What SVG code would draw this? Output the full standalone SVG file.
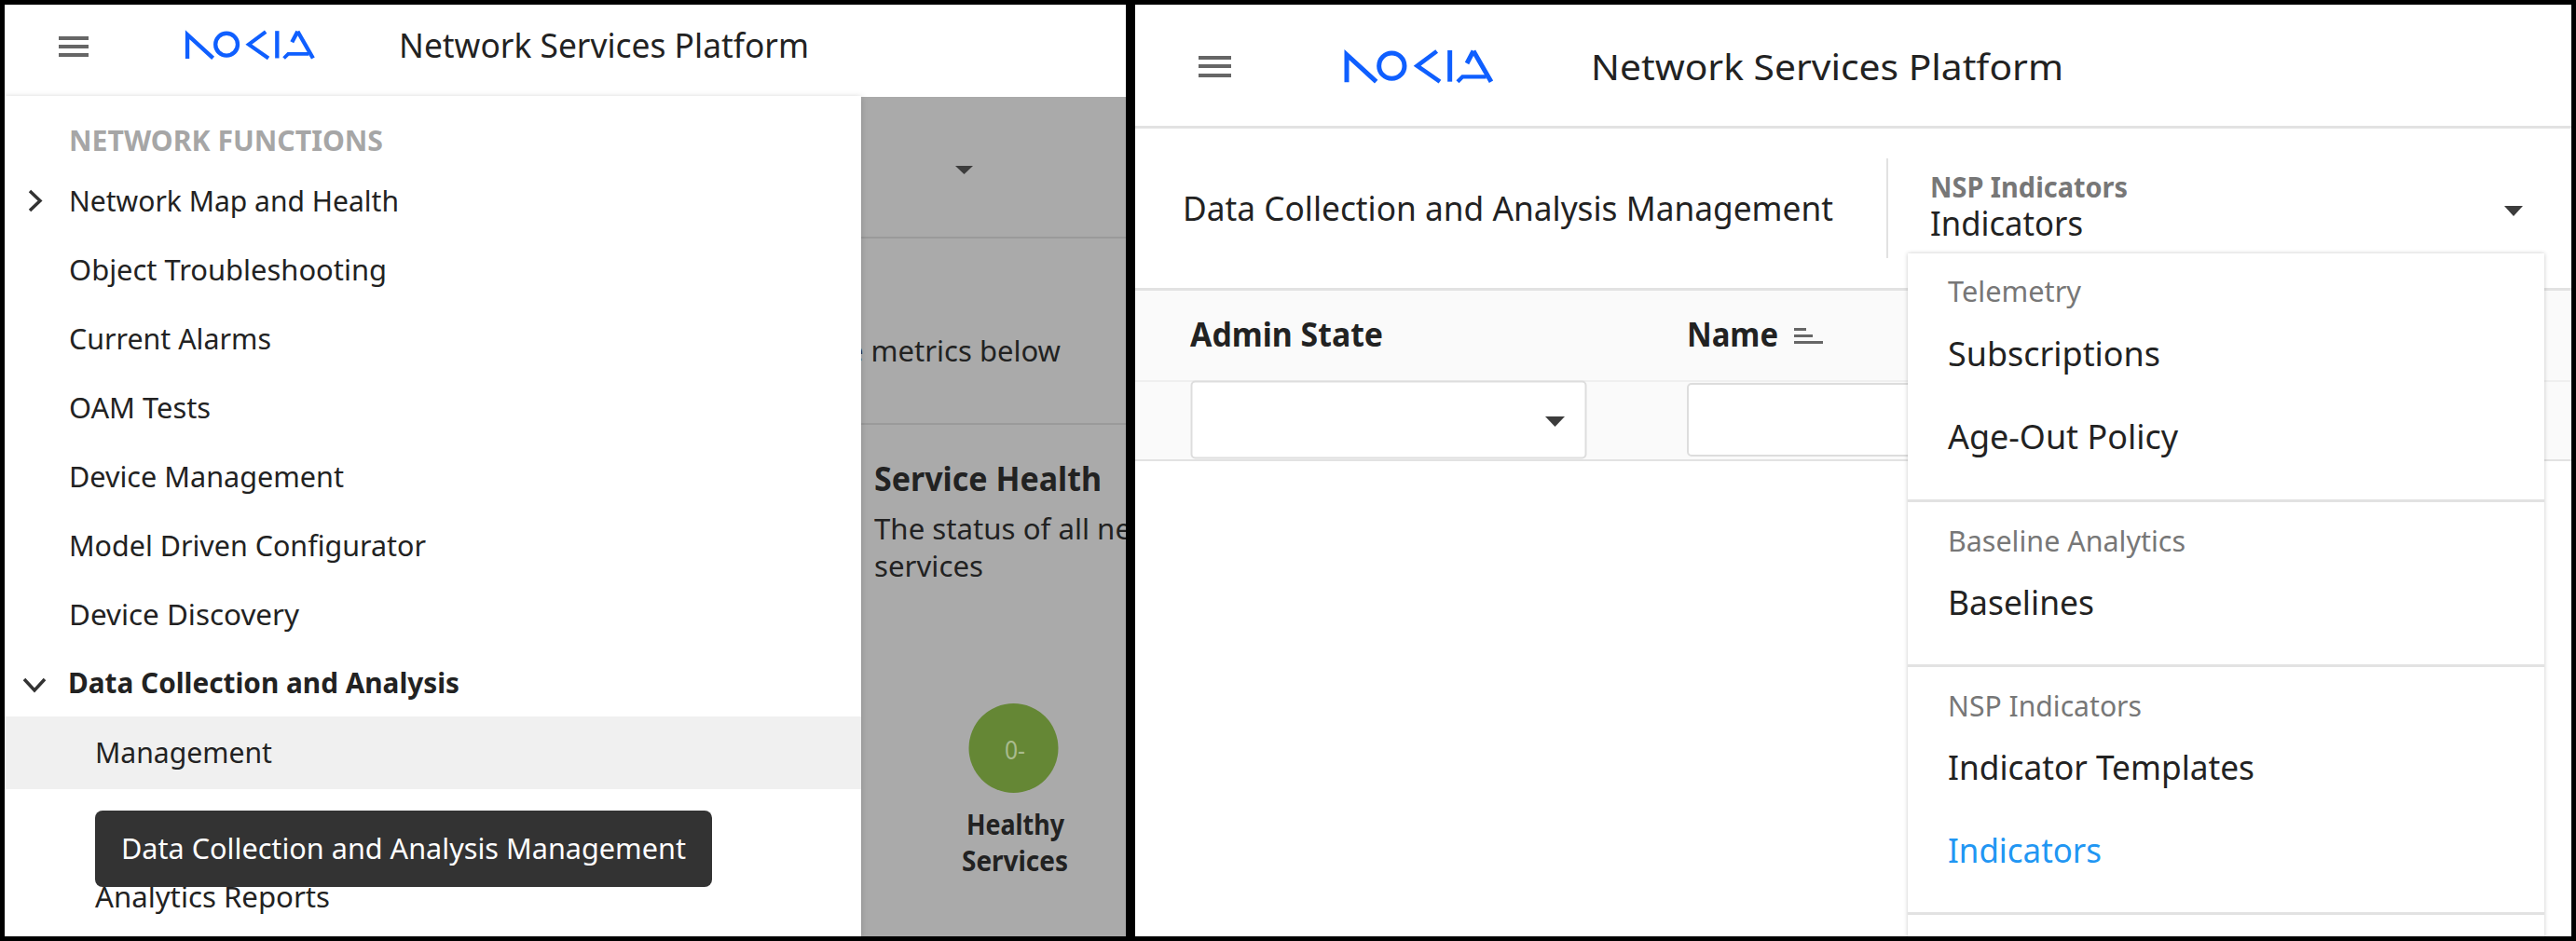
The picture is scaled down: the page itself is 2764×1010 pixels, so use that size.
<svg xmlns="http://www.w3.org/2000/svg" xmlns:xlink="http://www.w3.org/1999/xlink" width="2764" height="1010" viewBox="0 0 2764 1010">
<style>
text{font-family:"Noto Sans","Open Sans","DejaVu Sans",sans-serif;fill:#222}
.m{font-size:31px}
.b{font-weight:700}
.h{font-size:35.500px}
.t{font-size:38px}
.g{fill:#777}
.s{font-size:30px}
.line{fill:#e2e2e2}
.icon{fill:#666}
.tri{fill:#3c3c3c}
.logo{fill:none;stroke:#0f5fff;stroke-width:15}
</style>
<defs>
<filter id="sh" x="-5%" y="-5%" width="110%" height="110%"><feDropShadow dx="0" dy="1" stdDeviation="3" flood-color="#000" flood-opacity="0.2"/></filter>
<filter id="sh2" x="-5%" y="-5%" width="110%" height="110%"><feDropShadow dx="0" dy="0" stdDeviation="2" flood-color="#000" flood-opacity="0.22"/></filter>
<clipPath id="ov"><rect x="923" y="104" width="285" height="901"/></clipPath>
<clipPath id="rt"><rect x="1218" y="5" width="1541" height="1000"/></clipPath>
<g id="logo" class="logo">
<path d="M45 145V56L140 143"/>
<circle cx="190" cy="92" r="41" stroke-width="15"/>
<path d="M335 45L272 92L345 143" stroke-width="14"/>
<path d="M377 42V143" stroke-width="15"/>
<path d="M453 44L510 143M453 44L432 84" stroke-width="15"/>
<path d="M402 143L418 127H494" stroke-width="13"/>
</g>
</defs>
<rect width="2764" height="1010" fill="#000"/>

<g id="left-panel">
<rect x="5" y="5" width="1203" height="1000" fill="#fff"/>
<g id="left-overlay" clip-path="url(#ov)">
<rect x="923" y="104" width="285" height="901" fill="#aaa"/>
<rect x="923" y="254" width="285" height="2" fill="#9a9a9a"/>
<rect x="923" y="454" width="285" height="2" fill="#9a9a9a"/>
<path class="tri" d="M1025 178H1044L1034.500 187Z"/>
<text class="s" x="909" y="388" textLength="229" lengthAdjust="spacingAndGlyphs">e metrics below</text>
<text class="h b" x="938" y="527" textLength="244" lengthAdjust="spacingAndGlyphs">Service Health</text>
<text class="s" x="938" y="579" textLength="276" lengthAdjust="spacingAndGlyphs">The status of all ne</text>
<text class="s" x="938" y="619" textLength="117" lengthAdjust="spacingAndGlyphs">services</text>
<circle cx="1087.500" cy="803" r="48" fill="#658735"/>
<text x="1078" y="815" font-size="27" style="fill:#a9bb8e" textLength="22" lengthAdjust="spacingAndGlyphs">0-</text>
<text class="m b" x="1037" y="896" textLength="105" lengthAdjust="spacingAndGlyphs">Healthy</text>
<text class="m b" x="1032" y="935" textLength="114" lengthAdjust="spacingAndGlyphs">Services</text>
</g>
<g id="left-header">
<rect x="5" y="5" width="1203" height="98" fill="#fff"/>
<rect x="63" y="39" width="32" height="4" class="icon"/><rect x="63" y="48" width="32" height="4" class="icon"/><rect x="63" y="57" width="32" height="4" class="icon"/>
<use xlink:href="#logo" href="#logo" transform="translate(188 21) scale(0.29)"/>
<text class="h" x="428" y="62" textLength="440" lengthAdjust="spacingAndGlyphs">Network Services Platform</text>
</g>
<g id="left-drawer">
<rect x="5" y="103" width="919" height="902" fill="#fff" filter="url(#sh)"/>
<text class="m b" x="74" y="162" style="fill:#a6a6a6" textLength="337" lengthAdjust="spacingAndGlyphs">NETWORK FUNCTIONS</text>
<path d="M32 205L43 215.500L32 226" fill="none" stroke="#333" stroke-width="3.500"/>
<text class="m" x="74" y="227" textLength="354" lengthAdjust="spacingAndGlyphs">Network Map and Health</text>
<text class="m" x="74" y="301" textLength="341" lengthAdjust="spacingAndGlyphs">Object Troubleshooting</text>
<text class="m" x="74" y="375" textLength="217" lengthAdjust="spacingAndGlyphs">Current Alarms</text>
<text class="m" x="74" y="449" textLength="152" lengthAdjust="spacingAndGlyphs">OAM Tests</text>
<text class="m" x="74" y="523" textLength="295" lengthAdjust="spacingAndGlyphs">Device Management</text>
<text class="m" x="74" y="597" textLength="383" lengthAdjust="spacingAndGlyphs">Model Driven Configurator</text>
<text class="m" x="74" y="671" textLength="247" lengthAdjust="spacingAndGlyphs">Device Discovery</text>
<path d="M26 729L37 741L48 729" fill="none" stroke="#333" stroke-width="3.500"/>
<text class="m b" x="73" y="744" textLength="420" lengthAdjust="spacingAndGlyphs">Data Collection and Analysis</text>
<rect x="5" y="769" width="919" height="78" fill="#f0f0f0"/>
<text class="m" x="102" y="819" textLength="190" lengthAdjust="spacingAndGlyphs">Management</text>
<text class="m" x="102" y="974" textLength="252" lengthAdjust="spacingAndGlyphs">Analytics Reports</text>
</g>
<g id="tooltip">
<rect x="102" y="870" width="662" height="82" rx="8" fill="#333"/>
<text class="m" x="130" y="922" style="fill:#fff" textLength="606" lengthAdjust="spacingAndGlyphs">Data Collection and Analysis Management</text>
</g>
</g>

<g id="right-panel" clip-path="url(#rt)">
<rect x="1218" y="5" width="1541" height="1000" fill="#fff"/>
<g id="right-header">
<rect x="1286" y="60" width="35" height="4" class="icon"/><rect x="1286" y="69" width="35" height="4" class="icon"/><rect x="1286" y="79" width="35" height="4" class="icon"/>
<use xlink:href="#logo" href="#logo" transform="translate(1430 40) scale(0.3333)"/>
<text class="t" x="1707" y="86" textLength="507" lengthAdjust="spacingAndGlyphs">Network Services Platform</text>
<rect class="line" x="1218" y="135" width="1541" height="3"/>
</g>
<g id="page-title">
<text class="h" x="1269" y="237" textLength="698" lengthAdjust="spacingAndGlyphs">Data Collection and Analysis Management</text>
<rect class="line" x="2024" y="170" width="2" height="107"/>
<text class="m b g" x="2071" y="212" textLength="212" lengthAdjust="spacingAndGlyphs">NSP Indicators</text>
<text class="h" x="2071" y="253" textLength="164" lengthAdjust="spacingAndGlyphs">Indicators</text>
<path class="tri" d="M2687 221H2707L2697 232Z"/>
</g>
<g id="table">
<rect x="1218" y="311" width="1541" height="183" fill="#fafafa"/>
<rect class="line" x="1218" y="309" width="1541" height="3"/>
<rect x="1218" y="408" width="1541" height="2" fill="#efefef"/>
<rect class="line" x="1218" y="493" width="1541" height="2"/>
<text class="h b" x="1277" y="372" textLength="207" lengthAdjust="spacingAndGlyphs">Admin State</text>
<text class="h b" x="1810" y="372" textLength="98" lengthAdjust="spacingAndGlyphs">Name</text>
<rect class="icon" x="1925" y="352" width="13" height="3"/><rect class="icon" x="1925" y="359" width="20" height="3"/><rect class="icon" x="1925" y="366" width="31" height="3"/>
<rect x="1278.500" y="409.500" width="423" height="82" rx="4" fill="#fff" stroke="#ddd" stroke-width="2"/>
<path class="tri" d="M1658 447H1679L1668.500 458Z"/>
<rect x="1811" y="412" width="300" height="77" rx="4" fill="#fff" stroke="#ddd" stroke-width="2"/>
</g>
<g id="dropdown-menu">
<rect x="2047" y="272" width="683" height="760" fill="#fff" filter="url(#sh2)"/>
<text class="s g" x="2090" y="324" textLength="143" lengthAdjust="spacingAndGlyphs">Telemetry</text>
<text class="h" x="2090" y="393" textLength="228" lengthAdjust="spacingAndGlyphs">Subscriptions</text>
<text class="h" x="2090" y="482" textLength="247" lengthAdjust="spacingAndGlyphs">Age-Out Policy</text>
<rect class="line" x="2047" y="536" width="683" height="3"/>
<text class="s g" x="2090" y="592" textLength="255" lengthAdjust="spacingAndGlyphs">Baseline Analytics</text>
<text class="h" x="2090" y="660" textLength="157" lengthAdjust="spacingAndGlyphs">Baselines</text>
<rect class="line" x="2047" y="713" width="683" height="3"/>
<text class="s g" x="2090" y="769" textLength="208" lengthAdjust="spacingAndGlyphs">NSP Indicators</text>
<text class="h" x="2090" y="837" textLength="329" lengthAdjust="spacingAndGlyphs">Indicator Templates</text>
<text class="h" x="2090" y="926" style="fill:#2196f3" textLength="165" lengthAdjust="spacingAndGlyphs">Indicators</text>
<rect class="line" x="2047" y="979" width="683" height="3"/>
</g>
</g>
</svg>
